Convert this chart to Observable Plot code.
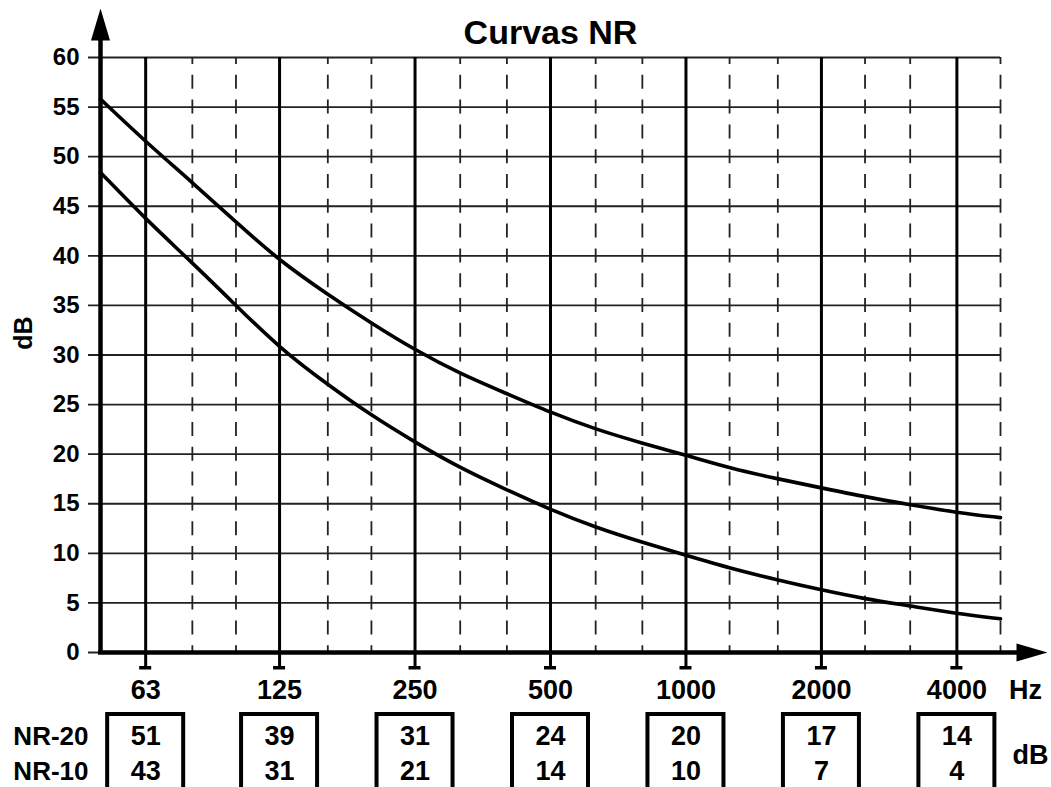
<!DOCTYPE html>
<html>
<head>
<meta charset="utf-8">
<script src="https://cdn.jsdelivr.net/npm/d3@7"></script>
<script src="https://cdn.jsdelivr.net/npm/@observablehq/plot@0.6"></script>
<style>
  html, body { margin: 0; padding: 0; background: #fff; }
  #chart svg { display: block; }
</style>
</head>
<body>
<div id="chart"></div>
<script>
// ---- data ----
const freqs = [50, 63, 80, 100, 125, 160, 200, 250, 315, 400, 500, 630, 800, 1000, 1250, 1600, 2000, 2500, 3150, 4000, 5000];
const nr20 = [55.8, 51.5, 47.4, 43.4, 39.5, 36.1, 33.2, 30.5, 28.1, 26.1, 24.2, 22.5, 21.1, 19.9, 18.6, 17.5, 16.6, 15.7, 14.9, 14.1, 13.6];
const nr10 = [48.4, 43.7, 39.3, 35.0, 30.7, 27.0, 23.9, 21.2, 18.6, 16.4, 14.4, 12.6, 11.1, 9.8, 8.5, 7.3, 6.3, 5.4, 4.7, 3.9, 3.4];
const octaves = [63, 125, 250, 500, 1000, 2000, 4000];
const octaveLabels = ["63", "125", "250", "500", "1000", "2000", "4000"];
const thirds = [80, 100, 160, 200, 315, 400, 630, 800, 1250, 1600, 2500, 3150, 5000];
const yTicks = [0, 5, 10, 15, 20, 25, 30, 35, 40, 45, 50, 55, 60];
const tableNR20 = [51, 39, 31, 24, 20, 17, 14];
const tableNR10 = [43, 31, 21, 14, 10, 7, 4];
const rowLabels = ["NR-20", "NR-10"];
const title = "Curvas NR";
const yLabel = "dB";
const xUnit = "Hz";
const tableUnit = "dB";

// ---- derived tables ----
const curves = [
  ...freqs.map((f, i) => ({f, v: nr20[i], s: "NR-20"})),
  ...freqs.map((f, i) => ({f, v: nr10[i], s: "NR-10"}))
];
const table = octaves.map((f, i) => ({f, a: tableNR20[i], b: tableNR10[i], label: octaveLabels[i]}));

const font = "Liberation Sans, Arial, Helvetica, sans-serif";

const upArrow = {draw(ctx) { ctx.moveTo(0, -49); ctx.lineTo(9.5, -17); ctx.lineTo(-9.5, -17); ctx.closePath(); }};
const rightArrow = {draw(ctx) { ctx.moveTo(47, 0); ctx.lineTo(16, -9); ctx.lineTo(16, 9); ctx.closePath(); }};

const chart = Plot.plot({
  width: 1051,
  height: 787,
  marginLeft: 100,
  marginRight: 51,
  marginTop: 57,
  marginBottom: 135,
  style: {fontFamily: font, background: "#fff"},
  x: {type: "log", domain: [50, 5000], axis: null},
  y: {domain: [0, 60], axis: null},
  marks: [
    // horizontal grid
    Plot.ruleY(yTicks, {y: d => d, stroke: "#222", strokeWidth: 1.8, insetLeft: -12}),
    // third-octave dashed grid
    Plot.ruleX(thirds, {x: d => d, stroke: "#222", strokeWidth: 1.8, strokeDasharray: "14,10.8", strokeDashoffset: 7}),
    // octave grid + stems
    Plot.ruleX(octaves, {x: d => d, stroke: "#000", strokeWidth: 3, insetBottom: -17}),
    Plot.rect(octaves, {x1: d => d, x2: d => d, insetLeft: -6, insetRight: -6, insetTop: 609, insetBottom: -17.5, fill: "#000"}),
    // curves
    Plot.line(curves, {x: "f", y: "v", z: "s", stroke: "#000", strokeWidth: 3.6, curve: "basis"}),
    // axes
    Plot.ruleX([50], {x: d => d, stroke: "#000", strokeWidth: 4.5, insetTop: -20, insetBottom: -2}),
    Plot.ruleY([0], {y: d => d, stroke: "#000", strokeWidth: 4.5, insetLeft: -2, insetRight: -22}),
    Plot.dot([0], {frameAnchor: "top-left", symbol: upArrow, fill: "#000", stroke: "none"}),
    Plot.dot([0], {frameAnchor: "bottom-right", symbol: rightArrow, fill: "#000", stroke: "none"}),
    // y tick labels
    Plot.text(yTicks, {y: d => d, text: d => String(d), frameAnchor: "left", dx: -21, textAnchor: "end", lineAnchor: "middle", fontSize: 24, fontWeight: "bold", fill: "#000"}),
    // x tick labels
    Plot.text(table, {x: "f", text: "label", frameAnchor: "bottom", dy: 38, textAnchor: "middle", lineAnchor: "middle", fontSize: 27, fontWeight: "bold", fill: "#000"}),
    Plot.text([xUnit], {frameAnchor: "bottom-right", dx: 25, dy: 38, textAnchor: "middle", lineAnchor: "middle", fontSize: 27, fontWeight: "bold", fill: "#000"}),
    // y label
    Plot.text([yLabel], {frameAnchor: "left", dx: -77, dy: -22, rotate: -90, textAnchor: "middle", lineAnchor: "middle", fontSize: 25, fontWeight: "bold", fill: "#000"}),
    // title
    Plot.text([title], {frameAnchor: "top", dy: -24, textAnchor: "middle", lineAnchor: "middle", fontSize: 34, fontWeight: "bold", fill: "#000"}),
    // table boxes
    Plot.rect(table, {x1: "f", x2: "f", insetLeft: -38, insetRight: -38, insetTop: 657, insetBottom: -142, fill: "none", stroke: "#000", strokeWidth: 4}),
    Plot.rect(table, {x1: "f", x2: "f", insetLeft: -38, insetRight: -38, insetTop: 694.5, insetBottom: -96.5, fill: "#000"}),
    Plot.text(table, {x: "f", text: d => String(d.a), frameAnchor: "bottom", dy: 84, textAnchor: "middle", lineAnchor: "middle", fontSize: 27, fontWeight: "bold", fill: "#000"}),
    Plot.text(table, {x: "f", text: d => String(d.b), frameAnchor: "bottom", dy: 119, textAnchor: "middle", lineAnchor: "middle", fontSize: 27, fontWeight: "bold", fill: "#000"}),
    Plot.text([rowLabels[0]], {frameAnchor: "bottom-left", dx: -12, dy: 84, textAnchor: "end", lineAnchor: "middle", fontSize: 26, fontWeight: "bold", fill: "#000"}),
    Plot.text([rowLabels[1]], {frameAnchor: "bottom-left", dx: -12, dy: 119, textAnchor: "end", lineAnchor: "middle", fontSize: 26, fontWeight: "bold", fill: "#000"}),
    Plot.text([tableUnit], {frameAnchor: "bottom-right", dx: 30, dy: 103, textAnchor: "middle", lineAnchor: "middle", fontSize: 27, fontWeight: "bold", fill: "#000"})
  ]
});
document.getElementById("chart").appendChild(chart);
</script>
</body>
</html>
